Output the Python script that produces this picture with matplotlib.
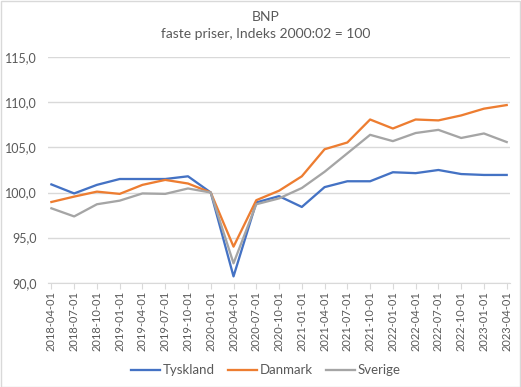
import matplotlib.pyplot as plt
from matplotlib.patches import Rectangle

plt.rcParams['font.family'] = ['Lato', 'DejaVu Sans']

dates = ['2018-04-01', '2018-07-01', '2018-10-01', '2019-01-01', '2019-04-01',
         '2019-07-01', '2019-10-01', '2020-01-01', '2020-04-01', '2020-07-01',
         '2020-10-01', '2021-01-01', '2021-04-01', '2021-07-01', '2021-10-01',
         '2022-01-01', '2022-04-01', '2022-07-01', '2022-10-01', '2023-01-01',
         '2023-04-01']
tyskland = [100.9, 99.9, 100.85, 101.5, 101.5, 101.5, 101.8, 100.0, 90.7, 98.9,
            99.6, 98.4, 100.6, 101.25, 101.25, 102.25, 102.15, 102.5, 102.05, 101.95,
            101.95]
danmark = [98.95, 99.55, 100.1, 99.85, 100.85, 101.4, 101.0, 100.0, 94.0, 99.15,
           100.2, 101.8, 104.8, 105.55, 108.1, 107.1, 108.1, 108.0, 108.55, 109.3,
           109.7]
sverige = [98.25, 97.35, 98.7, 99.1, 99.9, 99.85, 100.45, 100.0, 92.15, 98.7,
           99.35, 100.5, 102.3, 104.35, 106.4, 105.7, 106.6, 106.95, 106.05, 106.55,
           105.6]
yticks = [90, 95, 100, 105, 110, 115]

txt = '#595959'
fig = plt.figure(figsize=(5.21, 3.87), dpi=100)
ax = fig.add_axes([0.0921, 0.2695, 0.887, 0.5825])

x = range(len(dates))
ax.plot(x, tyskland, color='#4472C4', lw=1.65, label='Tyskland')
ax.plot(x, danmark, color='#ED7D31', lw=1.65, label='Danmark')
ax.plot(x, sverige, color='#A5A5A5', lw=1.65, label='Sverige')

ax.set_ylim(90, 115)
ax.set_xlim(-0.15, len(dates) - 1 + 0.15)
ax.set_yticks(yticks)
ax.set_yticklabels(['%.1f' % v for v in yticks])
ax.set_yticklabels([('%.1f' % v).replace('.', ',') for v in yticks])
ax.set_xticks(list(x))
ax.set_xticklabels(dates, rotation=90)
ax.grid(axis='y', color='#D9D9D9', lw=1)
ax.set_axisbelow(True)
for s in ['top', 'right', 'left']:
    ax.spines[s].set_visible(False)
ax.spines['bottom'].set_color('#D9D9D9')
ax.tick_params(axis='y', length=0, labelsize=9, labelcolor=txt, pad=8)
ax.tick_params(axis='x', length=4, color='#D9D9D9', labelsize=8, labelcolor=txt, pad=2)

fig.text(0.51, 0.955, 'BNP', ha='center', va='center', fontsize=10, color=txt)
fig.text(0.51, 0.912, 'faste priser, Indeks 2000:02 = 100', ha='center', va='center',
         fontsize=10, color=txt)

fig.legend(loc='center', bbox_to_anchor=(0.51, 0.043), ncol=3, frameon=False,
           fontsize=9.5, labelcolor=txt, handlelength=2.2, handletextpad=0.2,
           columnspacing=1.0)

fig.patches.append(Rectangle((0.001, 0.001), 0.997, 0.997, transform=fig.transFigure,
                             fill=False, edgecolor='#D9D9D9', lw=1))

fig.savefig('out.png', dpi=100)
